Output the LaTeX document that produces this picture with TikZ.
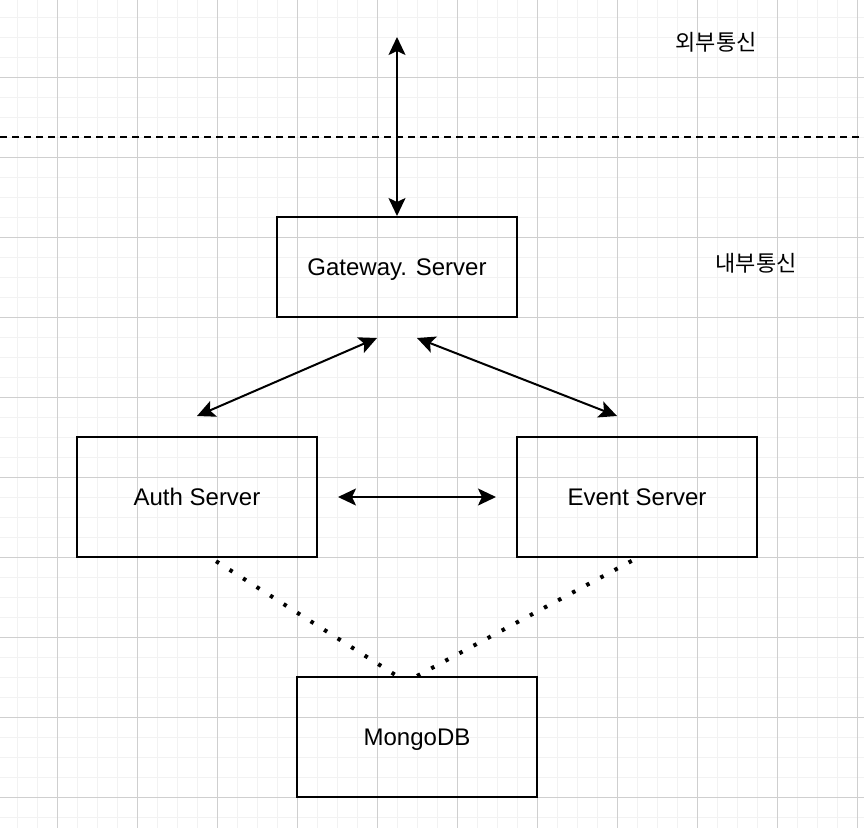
\documentclass[tikz,border=0pt]{standalone}
\usepackage{fontspec}
\setmainfont{Liberation Sans}
\newfontfamily\krfont{Noto Sans CJK KR}
\usetikzlibrary{arrows.meta, calc}

\begin{document}
\begin{tikzpicture}[
		% GLOBAL CFG
		x=1pt, y=-1pt,
		font=\fontsize{24}{28}\selectfont,
		>={Stealth[length=18pt, width=17pt, inset=4pt]},
		% Styles
		server/.style={% For the server boxes
			rectangle,
			draw,
			line width=2pt,
			minimum width=240pt,
			minimum height=120pt,
			inner sep=0pt,
			text depth=0pt,
		},
		zone/.style={% For the Korean zone labels
			font=\krfont\fontsize{22}{26}\selectfont,
			inner sep=0pt,
		},
		minorgrid/.style={% light background grid
			line width=1pt,
			draw=black!5,
		},
		majorgrid/.style={% darker grid every 4th line
			line width=1pt,
			draw=black!19,
		},
		sepline/.style={% border between outside and inside
			line width=2pt,
			dash pattern=on 7pt off 5pt,
		},
		link/.style={% Arrows between servers
			<->,
			line width=2pt,
		},
		dbline/.style={% Dotted lines to the database
			line width=4pt,
			dash pattern=on 3.5pt off 12.5pt,
			dash phase=-6pt,
		},
		]
		\useasboundingbox (0,0) rectangle (864,828);
		
		% Draw the grid
		\foreach \gx in {17,37,...,857} \draw [minorgrid] (\gx,0) -- (\gx,828);
		\foreach \gy in {17,37,...,817} \draw [minorgrid] (0,\gy) -- (864,\gy);
		\foreach \gx in {57,137,...,857} \draw [majorgrid] (\gx,0) -- (\gx,828);
		\foreach \gy in {77,157,...,797} \draw [majorgrid] (0,\gy) -- (864,\gy);
		
		% Draw the servers
		\node [server, minimum height=100pt] (gateway) at (397,267) {Gateway. Server};
		\node [server] (auth) at (197,497) {Auth Server};
		\node [server] (event) at (637,497) {Event Server};
		\node [server] (mongo) at (417,737) {MongoDB};
		
		% Zone labels
		\node [zone] (outside) at (716,42) {외부통신};
		\node [zone] (inside) at (756,263) {내부통신};
		
		% Border line
		\coordinate (sepL) at (0,137);
		\coordinate (sepR) at (864,137);
		\draw [sepline] (sepL) -- (sepR);
		
		% Arrows
		\coordinate (ext) at (397,37);
		\draw [link] (ext) -- (gateway.north);
		\draw [link] ($(gateway.south)+(-20,20)$) -- ($(auth.north)+(0,-20)$);
		\draw [link] ($(gateway.south)+(20,20)$) -- ($(event.north)+(-20,-20)$);
		\draw [link] ($(auth.east)+(20,0)$) -- ($(event.west)+(-20,0)$);
		
		% Database
		\draw [dbline] ($(auth.south)+(14,0)$) -- ($(mongo.north)+(-20,0)$);
		\draw [dbline] (event.south) -- (mongo.north);
		
	\end{tikzpicture}
\end{document}
